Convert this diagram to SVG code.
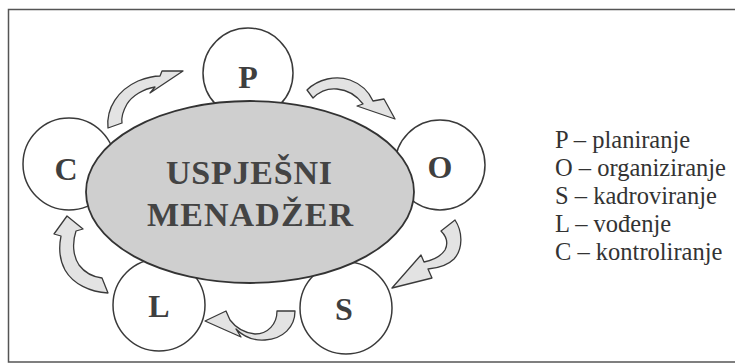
<svg xmlns="http://www.w3.org/2000/svg" width="735" height="364" viewBox="0 0 735 364">
<style>
.frame{fill:none;stroke:#555;stroke-width:1.5}
.circ{fill:#fff;stroke:#3a3a3a;stroke-width:1.5}
.ell{fill:#cfcfcf;stroke:#333;stroke-width:1.8}
.arr{fill:#e3e3e3;stroke:#3a3a3a;stroke-width:1.3;stroke-linejoin:round}
.let{font-family:"Liberation Serif","Times New Roman",serif;font-weight:bold;font-size:32px;fill:#3f3f3f;text-anchor:middle}
.big{font-family:"Liberation Serif","Times New Roman",serif;font-weight:bold;font-size:34px;fill:#444;text-anchor:middle}
.leg{font-family:"Liberation Serif","Times New Roman",serif;font-size:24.5px;fill:#333}
</style>
<rect width="735" height="364" fill="#fff"/>
<path class="frame" d="M736,9.5 H8.5 V362 H736"/>
<g id="node-P"><circle class="circ" cx="248" cy="73" r="45"/><text class="let" x="248" y="88">P</text></g>
<g id="node-C"><circle class="circ" cx="69" cy="164" r="46"/></g>
<g id="node-O"><circle class="circ" cx="440" cy="165" r="45"/></g>
<g id="node-L"><circle class="circ" cx="159" cy="305" r="46"/></g>
<g id="node-S"><circle class="circ" cx="346" cy="308" r="46"/></g>
<g id="node-center"><ellipse class="ell" cx="250" cy="192" rx="164" ry="91"/>
<text class="big" x="249" y="184" textLength="166" lengthAdjust="spacing">USPJEŠNI</text>
<text class="big" x="250" y="226" textLength="206" lengthAdjust="spacing">MENADŽER</text></g>
<g id="labels">
<text class="let" x="66" y="180">C</text>
<text class="let" x="440" y="178">O</text>
<text class="let" x="159" y="317">L</text>
<text class="let" x="344" y="320">S</text>
</g>
<g id="connectors">
<path class="arr" d="M108,128 C106,108 118,90 138,81 C146,78 153,76 160,76 L162,71 L183,71 L150,93 L155,87 C143,89 132,96 127,104 C123,111 121,117 122,123 Z"/>
<path class="arr" d="M307,90 C318,79 336,75 350,80 C361,84 369,92 373,101 L384,99 L395,119 L357,106 L363,104 C357,96 348,90 337,89 C327,88 319,92 313,98 Z"/>
<path class="arr" d="M455,220 C463,232 463,249 454,259 C448,265 440,268 428,269 L432,278 L392,288 L421,255 L424,262 C434,260 441,256 445,250 C448,244 447,237 441,231 Z"/>
<path class="arr" d="M295,311 C295,327 283,339 265,340 C252,341 242,335 236,329 L241,337 L205,321 L226,311 L230,320 C236,328 245,333 255,334 C268,334 277,324 277,311 Z"/>
<path class="arr" d="M108,293 C90,292 73,284 65,270 C59,259 59,246 61,236 L54,234 L67,216 L83,229 L76,231 C72,243 73,256 79,265 C85,273 94,277 102,278 Z"/>
</g>
<g id="legend">
<text class="leg" x="555" y="148">P – planiranje</text>
<text class="leg" x="555" y="176">O – organiziranje</text>
<text class="leg" x="555" y="204">S – kadroviranje</text>
<text class="leg" x="555" y="232">L – vođenje</text>
<text class="leg" x="555" y="260">C – kontroliranje</text>
</g>
</svg>
